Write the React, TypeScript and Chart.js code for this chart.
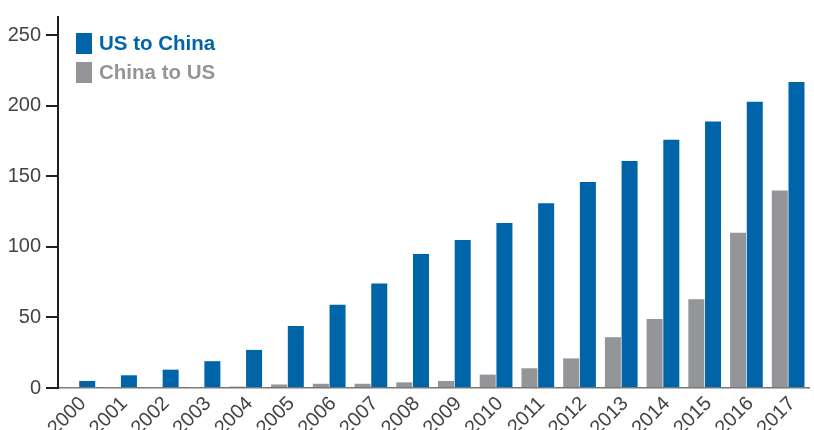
import React, { useEffect, useRef } from "react";
import { Chart, registerables } from "chart.js";

Chart.register(...registerables);

const years = ["2000","2001","2002","2003","2004","2005","2006","2007","2008","2009","2010","2011","2012","2013","2014","2015","2016","2017"];
const usToChina = [5, 9, 13, 19, 27, 44, 59, 74, 95, 105, 117, 131, 146, 161, 176, 189, 203, 217];
const chinaToUs = [0.5, 0.5, 0.5, 0.5, 1, 2.5, 3, 3, 4, 5, 9.5, 14, 21, 36, 49, 63, 110, 140];
const yTicks = [0, 50, 100, 150, 200, 250];

const BLUE = "#0064a8";
const GRAY = "#939598";

export default function App() {
  const ref = useRef<HTMLCanvasElement | null>(null);
  useEffect(() => {
    if (!ref.current) return;
    const chart = new Chart(ref.current, {
      type: "bar",
      data: {
        labels: years,
        datasets: [
          { label: "China to US", data: chinaToUs, backgroundColor: GRAY, barPercentage: 0.96, categoryPercentage: 0.8 },
          { label: "US to China", data: usToChina, backgroundColor: BLUE, barPercentage: 0.96, categoryPercentage: 0.8 },
        ],
      },
      options: {
        animation: false,
        responsive: false,
        maintainAspectRatio: false,
        layout: { padding: { left: 0, right: 5, top: 12, bottom: 0 } },
        plugins: { legend: { display: false }, tooltip: { enabled: false } },
        scales: {
          x: {
            grid: { display: false, drawTicks: false },
            border: { display: true, color: "#777", width: 1.5 },
            ticks: {
              autoSkip: false,
              maxRotation: 45,
              minRotation: 45,
              padding: 4,
              labelOffset: 4,
              color: "#444",
              font: { family: "Liberation Sans, Arial, sans-serif", size: 20 },
            },
            afterFit: (s: any) => { s.height = 42; },
          },
          y: {
            min: 0,
            max: 263,
            grid: { drawOnChartArea: false, drawTicks: true, tickLength: 12, color: "#231f20", lineWidth: 2 },
            border: { display: true, color: "#231f20", width: 2 },
            ticks: {
              stepSize: 50,
              padding: 5,
              color: "#444",
              font: { family: "Liberation Sans, Arial, sans-serif", size: 20 },
            },
            afterBuildTicks: (axis: any) => {
              axis.ticks = yTicks.map((v) => ({ value: v }));
            },
            afterFit: (s: any) => { s.width = 58; },
          },
        },
      },
    });
    return () => chart.destroy();
  }, []);

  const legendItem = (color: string, text: string, top: number) => (
    <div style={{ position: "absolute", left: 76, top, display: "flex", alignItems: "center" }}>
      <div style={{ width: 16, height: 21, background: color }} />
      <span style={{ marginLeft: 7, color, fontWeight: "bold", fontSize: 20.5, fontFamily: "Liberation Sans, Arial, sans-serif" }}>{text}</span>
    </div>
  );

  return (
    <div style={{ position: "fixed", left: 0, top: 0, width: 814, height: 430, background: "#fff" }}>
      <canvas ref={ref} width={814} height={430} style={{ display: "block" }} />
      {legendItem(BLUE, "US to China", 31)}
      {legendItem(GRAY, "China to US", 60)}
    </div>
  );
}
